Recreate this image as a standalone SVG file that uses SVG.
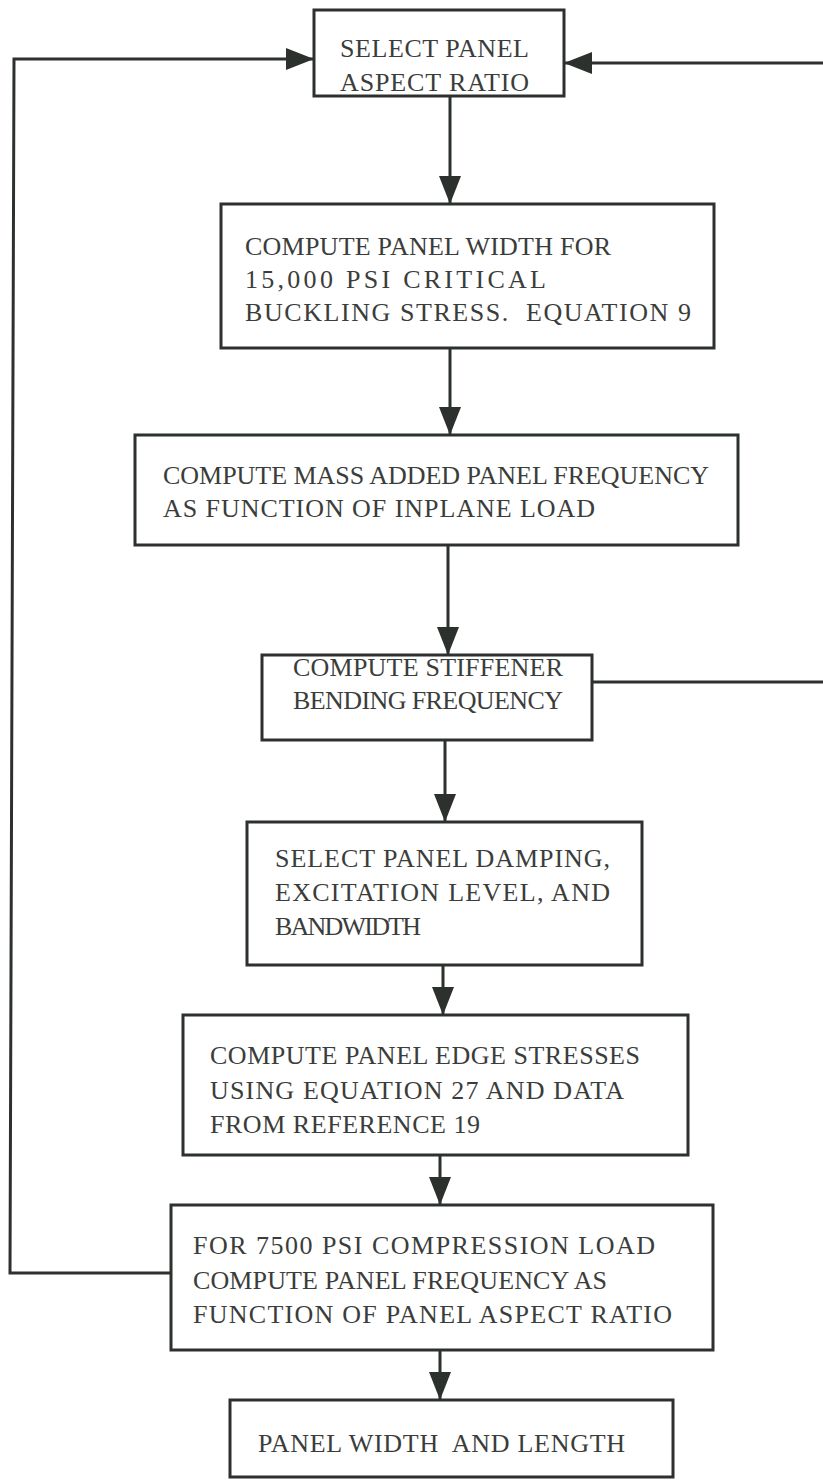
<svg xmlns="http://www.w3.org/2000/svg" width="823" height="1482" viewBox="0 0 823 1482">
<defs>
<style>
.box{fill:#ffffff;stroke:#2d312d;stroke-width:3}
.ln{fill:none;stroke:#2d312d;stroke-width:3}
.t{font-family:"Liberation Serif","Times New Roman",serif;font-size:26px;fill:#3a3d3a;white-space:pre}
</style>
<marker id="ah" markerWidth="28" markerHeight="22" refX="28" refY="11" orient="auto" markerUnits="userSpaceOnUse">
<path d="M0,0 L28,11 L0,22 Z" fill="#2d312d"/>
</marker>
</defs>
<rect width="823" height="1482" fill="#ffffff"/>
<g id="connectors">
<line class="ln" x1="450" y1="96" x2="450" y2="204" marker-end="url(#ah)"/>
<line class="ln" x1="450" y1="348" x2="450" y2="435" marker-end="url(#ah)"/>
<line class="ln" x1="448" y1="545" x2="448" y2="655" marker-end="url(#ah)"/>
<line class="ln" x1="445" y1="740" x2="445" y2="822" marker-end="url(#ah)"/>
<line class="ln" x1="443" y1="965" x2="443" y2="1015" marker-end="url(#ah)"/>
<line class="ln" x1="440" y1="1155" x2="440" y2="1205" marker-end="url(#ah)"/>
<line class="ln" x1="440" y1="1350" x2="440" y2="1400" marker-end="url(#ah)"/>
<polyline class="ln" points="171,1273 10,1273 14,59 314,59" marker-end="url(#ah)"/>
<line class="ln" x1="823" y1="63" x2="564" y2="63" marker-end="url(#ah)"/>
<line class="ln" x1="592" y1="682" x2="823" y2="682"/>
</g>
<g id="n1">
<rect class="box" x="314" y="10" width="250" height="86"/>
<text class="t" x="340" y="57" textLength="189" lengthAdjust="spacing">SELECT PANEL</text>
<text class="t" x="340" y="91" textLength="189" lengthAdjust="spacing">ASPECT RATIO</text>
</g>
<g id="n2">
<rect class="box" x="221" y="204" width="493" height="144"/>
<text class="t" x="245" y="255" textLength="366" lengthAdjust="spacing">COMPUTE PANEL WIDTH FOR</text>
<text class="t" x="245" y="288" textLength="301" lengthAdjust="spacing">15,000 PSI CRITICAL</text>
<text class="t" x="245" y="321" textLength="446" lengthAdjust="spacing" xml:space="preserve">BUCKLING STRESS.  EQUATION 9</text>
</g>
<g id="n3">
<rect class="box" x="135" y="435" width="603" height="110"/>
<text class="t" x="163" y="484" textLength="546" lengthAdjust="spacing">COMPUTE MASS ADDED PANEL FREQUENCY</text>
<text class="t" x="163" y="517" textLength="432" lengthAdjust="spacing">AS FUNCTION OF INPLANE LOAD</text>
</g>
<g id="n4">
<rect class="box" x="262" y="655" width="330" height="85"/>
<text class="t" x="293" y="676" textLength="270" lengthAdjust="spacing">COMPUTE STIFFENER</text>
<text class="t" x="293" y="709" textLength="270" lengthAdjust="spacing">BENDING FREQUENCY</text>
</g>
<g id="n5">
<rect class="box" x="247" y="822" width="395" height="143"/>
<text class="t" x="275" y="867" textLength="335" lengthAdjust="spacing">SELECT PANEL DAMPING,</text>
<text class="t" x="275" y="901" textLength="335" lengthAdjust="spacing">EXCITATION LEVEL, AND</text>
<text class="t" x="275" y="935" textLength="146" lengthAdjust="spacing">BANDWIDTH</text>
</g>
<g id="n6">
<rect class="box" x="183" y="1015" width="505" height="140"/>
<text class="t" x="210" y="1064" textLength="430" lengthAdjust="spacing">COMPUTE PANEL EDGE STRESSES</text>
<text class="t" x="210" y="1099" textLength="414" lengthAdjust="spacing">USING EQUATION 27 AND DATA</text>
<text class="t" x="210" y="1133" textLength="270" lengthAdjust="spacing">FROM REFERENCE 19</text>
</g>
<g id="n7">
<rect class="box" x="171" y="1205" width="542" height="145"/>
<text class="t" x="193" y="1254" textLength="462" lengthAdjust="spacing">FOR 7500 PSI COMPRESSION LOAD</text>
<text class="t" x="193" y="1289" textLength="414" lengthAdjust="spacing">COMPUTE PANEL FREQUENCY AS</text>
<text class="t" x="193" y="1323" textLength="479" lengthAdjust="spacing">FUNCTION OF PANEL ASPECT RATIO</text>
</g>
<g id="n8">
<rect class="box" x="230" y="1400" width="443" height="77"/>
<text class="t" x="258" y="1452" textLength="367" lengthAdjust="spacing" xml:space="preserve">PANEL WIDTH  AND LENGTH</text>
</g>
</svg>
